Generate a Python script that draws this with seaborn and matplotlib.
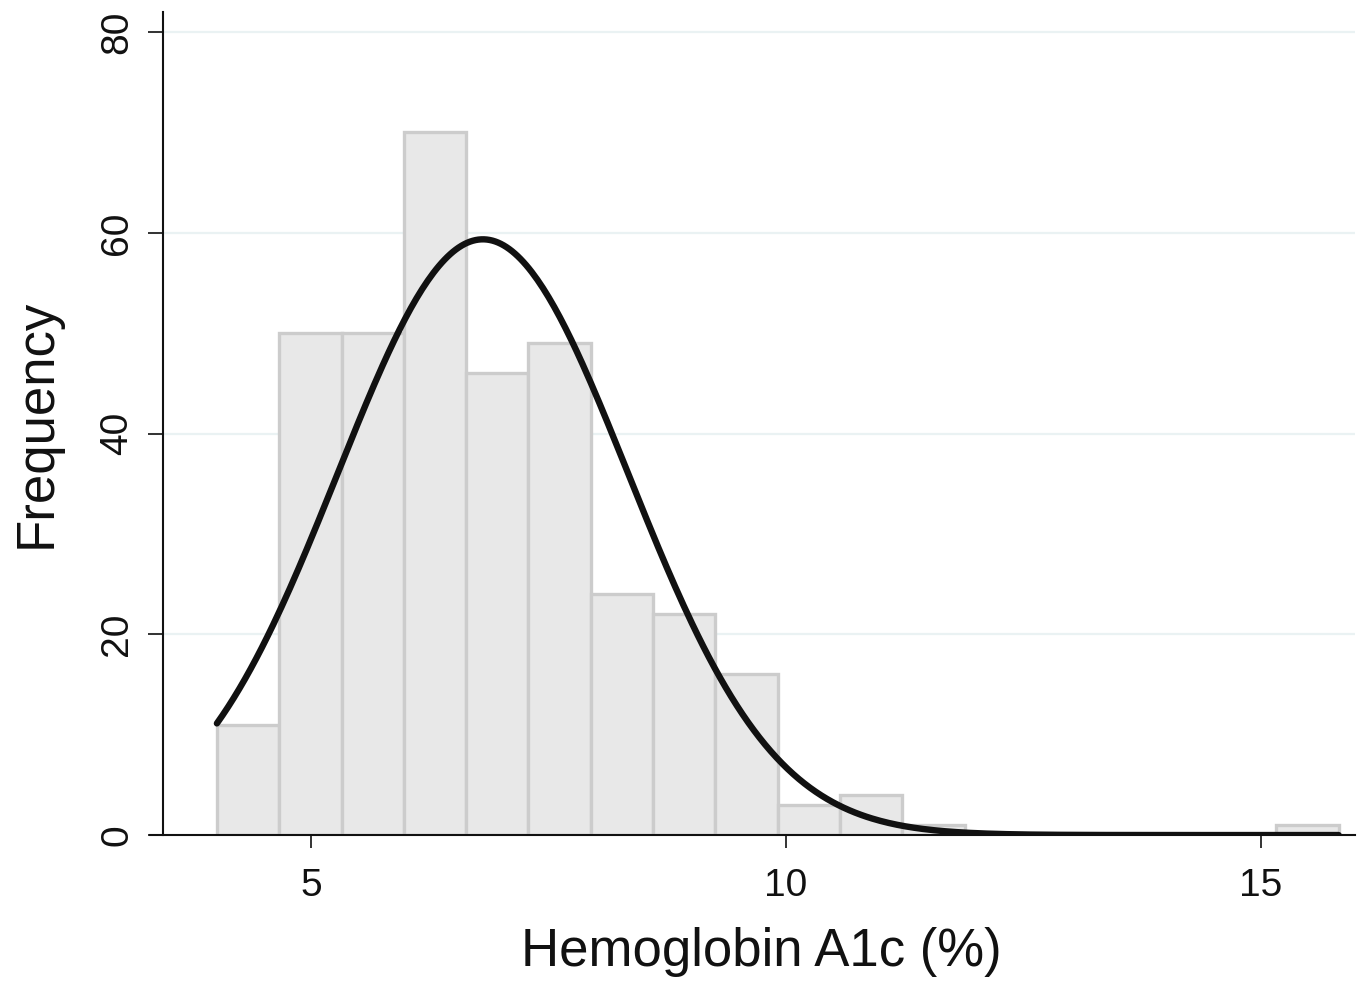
import numpy as np
import pandas as pd
import matplotlib
matplotlib.use("Agg")
import matplotlib.pyplot as plt
import seaborn as sns

# histogram bins
bin_start = 4.01
bin_width = 0.656
counts = [11, 50, 50, 70, 46, 49, 24, 22, 16, 3, 4, 1, 0, 0, 0, 0, 0, 1]

# fitted normal curve parameters
curve_mean = 6.81
curve_sd = 1.53

x_ticks = [5, 10, 15]
y_ticks = [0, 20, 40, 60, 80]

sns.set_style("white")
plt.rcParams['font.family'] = ['Liberation Sans', 'DejaVu Sans']

edges = bin_start + bin_width * np.arange(len(counts) + 1)
centers = (edges[:-1] + edges[1:]) / 2
n_total = sum(counts)
df = pd.DataFrame({'hba1c': centers, 'count': counts})

fig = plt.figure(figsize=(13.63, 9.86), dpi=100)
ax = fig.add_axes([0.1100, 0.1531, 0.8841, 0.8347])

for yv in y_ticks[1:]:
    ax.axhline(yv, color='#eaf2f3', lw=1.6, zorder=0)

sns.histplot(data=df, x='hba1c', weights='count', bins=list(edges), ax=ax,
             color='#e8e8e8', edgecolor='#cccccc', linewidth=2.4,
             alpha=1, zorder=2)

xs = np.linspace(edges[0], edges[-1], 400)
ys = n_total * bin_width * np.exp(-0.5 * ((xs - curve_mean) / curve_sd) ** 2) / (curve_sd * np.sqrt(2 * np.pi))
sns.lineplot(x=xs, y=ys, ax=ax, color='#111111', lw=4.6, zorder=3)

ax.set_xlim(3.305, 15.99)
ax.set_ylim(0, 82)
ax.set_xticks(x_ticks)
ax.set_yticks(y_ticks)

for s in ['top', 'right']:
    ax.spines[s].set_visible(False)
ax.spines['left'].set_position(('data', 3.4405))
for s in ['left', 'bottom']:
    ax.spines[s].set_color('#111111')
    ax.spines[s].set_linewidth(1.5)
    ax.spines[s].set_zorder(4)

ax.tick_params(axis='y', direction='out', length=11, width=1.2, pad=9,
               labelsize=28, colors='#111111', left=True, labelrotation=90)
for lab in ax.get_yticklabels():
    lab.set_va('center')
ax.tick_params(axis='x', direction='out', length=9.5, width=1.2, pad=14,
               labelsize=28, colors='#111111', bottom=True)

ax.set_xlabel('Hemoglobin A1c (%)', fontsize=38, labelpad=17, color='#111111')
ax.set_ylabel('Frequency', fontsize=38, labelpad=27, color='#111111')
ax.xaxis.label.set_x(0.507)

fig.savefig('out.png', dpi=100)
